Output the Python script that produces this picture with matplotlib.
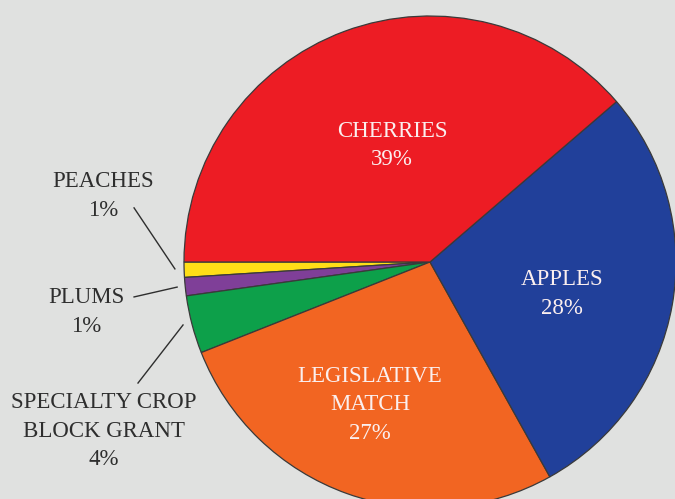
import matplotlib
matplotlib.use("Agg")
import matplotlib.pyplot as plt

categories = ["PEACHES", "PLUMS", "SPECIALTY CROP\nBLOCK GRANT", "LEGISLATIVE\nMATCH", "APPLES", "CHERRIES"]
values = [1.0, 1.2, 3.8, 27.1, 28.2, 38.7]
pct_labels = ["1%", "1%", "4%", "27%", "28%", "39%"]
colors = ["#FFDE17", "#7F3F98", "#0DA04A", "#F26522", "#21409A", "#ED1C24"]

BG = "#E0E1E0"
W, H = 675, 499
cx, cy, R = 430, 262, 246

fig = plt.figure(figsize=(W / 100, H / 100), dpi=100, facecolor=BG)
ax = fig.add_axes([(cx - R) / W, (H - cy - R) / H, 2 * R / W, 2 * R / H])
ax.set_facecolor(BG)
ax.pie(values, colors=colors, startangle=180, counterclock=True, radius=1,
       wedgeprops=dict(edgecolor="#3a3a3a", linewidth=0.9))
ax.set_xlim(-1, 1)
ax.set_ylim(-1, 1)
ax.set_aspect("equal")
ax.axis("off")
for p in ax.patches:
    p.set_clip_on(False)

font = dict(family=["Liberation Serif", "DejaVu Serif"], fontsize=16.5)

inside = {
    5: (-0.154, 0.472),
    4: (0.537, -0.130),
    3: (-0.244, -0.581),
}
outside = {
    0: (-1.329, 0.268),
    1: (-1.398, -0.203),
    2: (-1.325, -0.687),
}
for i, (x, y) in inside.items():
    ax.text(x, y, categories[i] + "\n" + pct_labels[i], ha="center", va="center",
            color="#FBEFEF", linespacing=1.45, clip_on=False, **font)
for i, (x, y) in outside.items():
    ax.text(x, y, categories[i] + "\n" + pct_labels[i], ha="center", va="center",
            color="#2e2e2e", linespacing=1.45, clip_on=False, **font)

leaders = [
    ((-1.203, 0.220), (-1.037, -0.028)),
    ((-1.203, -0.142), (-1.028, -0.102)),
    ((-1.187, -0.492), (-1.004, -0.256)),
]
for (x0, y0), (x1, y1) in leaders:
    ax.plot([x0, x1], [y0, y1], color="#2e2e2e", lw=1.0, clip_on=False)

fig.savefig("out.png", dpi=100, facecolor=BG)
